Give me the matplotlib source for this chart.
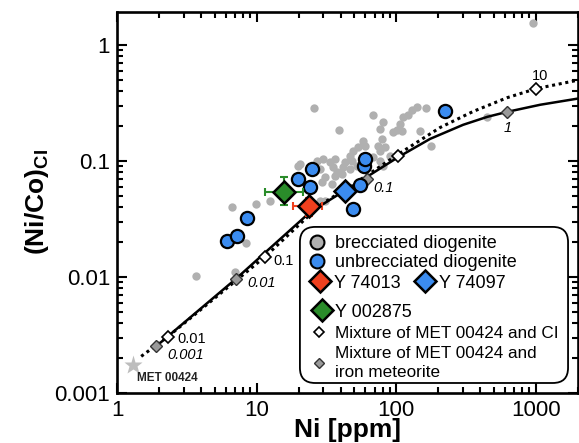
import numpy as np
import matplotlib
matplotlib.use('Agg')
import matplotlib.pyplot as plt
from matplotlib.lines import Line2D
from matplotlib.patches import FancyBboxPatch
from matplotlib.ticker import FixedLocator, FixedFormatter, LogLocator, NullFormatter

plt.rcParams['font.family'] = ['Liberation Sans', 'DejaVu Sans']
plt.rcParams['mathtext.fontset'] = 'custom'
plt.rcParams['mathtext.rm'] = 'Liberation Sans'
plt.rcParams['mathtext.bf'] = 'Liberation Sans:bold'

# ---------------- data ----------------
brec_ni = [960, 25.8, 39.0, 68.4, 80.7, 76.8, 121.9, 130.2, 141.4, 164.1, 112.2,
           106.8, 101.7, 110.4, 95.2, 148.6, 178.2, 449, 79.4, 74.3, 83.4, 76.8,
           58.0, 60.0, 53.4, 49.2, 90.6, 46.8, 48.4, 43.1, 41.7, 36.5, 35.3,
           76.8, 80.7, 37.8, 41.0, 30.0, 33.6, 27.2, 20.5, 19.8, 28.5, 31.0, 29.5,
           36.5, 34.8, 28.5, 31.0, 6.67, 9.92, 12.5, 8.41, 3.68, 7.01, 68.4, 52.5, 46.8]
brec_nico = [1.54, 0.2886, 0.1833, 0.2513, 0.2146, 0.1869, 0.2513, 0.2773, 0.294, 0.2886, 0.2416,
             0.2063, 0.1833, 0.1797, 0.1762, 0.1797, 0.1336, 0.2416, 0.1535, 0.1336, 0.131, 0.1211,
             0.1475, 0.1336, 0.131, 0.1211, 0.1097, 0.1097, 0.0994, 0.0975, 0.0883, 0.1034, 0.0883,
             0.0994, 0.0901, 0.080, 0.0769, 0.1034, 0.0975, 0.0994, 0.0937, 0.0901, 0.0849, 0.0725, 0.0657,
             0.0739, 0.0631, 0.0452, 0.0452, 0.0401, 0.0426, 0.0452, 0.0197, 0.0103, 0.0111, 0.1076, 0.0901, 0.0849]

unbrec_ni = [6.14, 7.25, 8.55, 19.8, 25.0, 24.2, 49.2, 55.2, 59.3, 60.0, 224]
unbrec_nico = [0.0205, 0.0226, 0.0323, 0.0697, 0.0849, 0.0595, 0.0386, 0.0619, 0.0901, 0.1034, 0.267]

y74013_ni, y74013_nico = [23.8], [0.0409]
y74013_xerr, y74013_yerr = [[5.5], [5.5]], [[0.0073], [0.0073]]
y74097_ni, y74097_nico = [43.1], [0.055]
y002875_ni, y002875_nico = [15.7], [0.054]
y002875_xerr, y002875_yerr = [[4.2], [5.8]], [[0.0123], [0.0185]]

met_ni, met_nico = [1.30], [0.00174]

# mixing curves
iron_curve_ni = [1.90, 7.13, 24.2, 58.0, 103, 175, 302, 450, 625, 1077, 1983]
iron_curve_nico = [0.00253, 0.0097, 0.0363, 0.0697, 0.1076, 0.155, 0.205, 0.240, 0.265, 0.305, 0.344]
ci_curve_ni = [1.49, 2.32, 11.5, 28.5, 62, 103, 207, 356, 625, 1009, 1919]
ci_curve_nico = [0.00208, 0.00308, 0.0150, 0.0417, 0.0754, 0.114, 0.1945, 0.267, 0.351, 0.42, 0.491]

iron_pts_ni = [1.90, 7.13, 62.0, 625]
iron_pts_nico = [0.00253, 0.0097, 0.0697, 0.263]
iron_pts_labels = ['0.001', '0.01', '0.1', '1']
ci_pts_ni = [2.32, 11.5, 103, 1009]
ci_pts_nico = [0.00308, 0.0150, 0.1097, 0.42]
ci_pts_labels = ['0.01', '0.1', '', '10']

x_ticks = [1, 10, 100, 1000]
x_ticklabels = ['1', '10', '100', '1000']
y_ticks = [0.001, 0.01, 0.1, 1]
y_ticklabels = ['0.001', '0.01', '0.1', '1']

# ---------------- styles ----------------
GRAY = '#b0b0b0'
BLUE = '#3b8cf0'
RED = '#f0401e'
GREEN = '#2a8c2a'
DGRAY = '#9a9a9a'

fig = plt.figure(figsize=(5.79, 4.43), dpi=100)
ax = fig.add_axes([0.2021, 0.1122, 0.7957, 0.8614])
ax.set_xscale('log')
ax.set_yscale('log')
ax.set_xlim(1, 2000)
ax.set_ylim(0.001, 1.93)

ax.plot(brec_ni, brec_nico, 'o', ms=6, color=GRAY, mec='none', zorder=2)

ax.plot(ci_curve_ni, ci_curve_nico, linestyle=(0, (1, 1.2)), color='black', lw=2.2, zorder=3)
ax.plot(iron_curve_ni, iron_curve_nico, '-', color='black', lw=1.8, zorder=3)

ax.plot(met_ni, met_nico, '*', ms=14, color='#bdbdbd', mec='none', zorder=3)
ax.annotate('MET 00424', xy=(met_ni[0], met_nico[0]), xytext=(3, -9), textcoords='offset points',
            fontsize=8.5, fontweight='bold', color='#222222', ha='left', va='center')

ax.plot(iron_pts_ni, iron_pts_nico, 'D', ms=6, color=DGRAY, mec='#333333', mew=1.0, zorder=4)
ax.plot(ci_pts_ni, ci_pts_nico, 'D', ms=6, color='white', mec='black', mew=1.2, zorder=4)

iron_offsets = [(8, -6), (8, -3), (4.5, -6), (0, -11)]
for xv, yv, lab, off in zip(iron_pts_ni, iron_pts_nico, iron_pts_labels, iron_offsets):
    ax.annotate(lab, xy=(xv, yv), xytext=off, textcoords='offset points', fontsize=10.5,
                fontstyle='italic', ha='center' if lab == '1' else 'left', va='center', zorder=5)
ci_offsets = [(7, -1.5), (6, -3), (0, 0), (3, 9)]
for xv, yv, lab, off in zip(ci_pts_ni, ci_pts_nico, ci_pts_labels, ci_offsets):
    if lab:
        ax.annotate(lab, xy=(xv, yv), xytext=off, textcoords='offset points', fontsize=10.5,
                    ha='center' if lab == '10' else 'left', va='center', zorder=5)

ax.plot(unbrec_ni, unbrec_nico, 'o', ms=9.5, color=BLUE, mec='black', mew=1.6, zorder=5)

ax.errorbar(y002875_ni, y002875_nico, xerr=y002875_xerr, yerr=y002875_yerr, fmt='none',
            ecolor=GREEN, elinewidth=1.5, capsize=3, capthick=1.5, zorder=5)
ax.errorbar(y74013_ni, y74013_nico, xerr=y74013_xerr, yerr=y74013_yerr, fmt='none',
            ecolor=RED, elinewidth=1.5, capsize=3, capthick=1.5, zorder=5)
ax.plot(y002875_ni, y002875_nico, 'D', ms=11.5, color=GREEN, mec='black', mew=1.8, zorder=6)
ax.plot(y74013_ni, y74013_nico, 'D', ms=11.5, color=RED, mec='black', mew=1.8, zorder=6)
ax.plot(y74097_ni, y74097_nico, 'D', ms=11.5, color=BLUE, mec='black', mew=1.8, zorder=6)

# axes styling
for s in ax.spines.values():
    s.set_linewidth(1.9)
ax.xaxis.set_major_locator(FixedLocator(x_ticks))
ax.xaxis.set_major_formatter(FixedFormatter(x_ticklabels))
ax.yaxis.set_major_locator(FixedLocator(y_ticks))
ax.yaxis.set_major_formatter(FixedFormatter(y_ticklabels))
ax.xaxis.set_minor_locator(LogLocator(base=10, subs=np.arange(2, 10)))
ax.yaxis.set_minor_locator(LogLocator(base=10, subs=np.arange(2, 10)))
ax.xaxis.set_minor_formatter(NullFormatter())
ax.yaxis.set_minor_formatter(NullFormatter())
ax.tick_params(which='both', direction='in', top=True, right=True, width=1.5)
ax.tick_params(which='major', length=7, labelsize=16, pad=5)
ax.tick_params(which='minor', length=4.5)

ax.set_xlabel('Ni [ppm]', fontsize=19, fontweight='bold')
ax.set_ylabel(r'$\mathbf{(Ni/Co)}_{\mathbf{CI}}$', fontsize=19)
ax.xaxis.set_label_coords(0.5, -0.065)
ax.yaxis.set_label_coords(-0.143, 0.5)

# ---------------- legend ----------------
frame = FancyBboxPatch((0.397, 0.027), 0.582, 0.409, boxstyle='round,pad=0,rounding_size=0.033',
                       mutation_aspect=460.7 / 381.6, transform=ax.transAxes,
                       facecolor='white', edgecolor='black', lw=1.3, zorder=9)
ax.add_patch(frame)

common = dict(frameon=False, borderpad=0, borderaxespad=0, handlelength=1.0)
h1 = [Line2D([], [], ls='none', marker='o', ms=10, color=GRAY, mec='black', mew=1.5),
      Line2D([], [], ls='none', marker='o', ms=10, color=BLUE, mec='black', mew=1.5)]
leg1 = ax.legend(h1, ['brecciated diogenite', 'unbrecciated diogenite'], loc='center left',
                 bbox_to_anchor=(0.4146, 0.3677), labelspacing=0.1, handletextpad=0.5,
                 fontsize=13, **common)
leg1.set_zorder(10)
ax.add_artist(leg1)

h2 = [Line2D([], [], ls='none', marker='D', ms=11.5, color=RED, mec='black', mew=1.8),
      Line2D([], [], ls='none', marker='D', ms=11.5, color=BLUE, mec='black', mew=1.8)]
leg2 = ax.legend(h2, ['Y 74013', 'Y 74097'], loc='center left', ncol=2,
                 bbox_to_anchor=(0.421, 0.289), handletextpad=0.25, columnspacing=0.9,
                 fontsize=13, **common)
leg2.set_zorder(10)
ax.add_artist(leg2)

h3 = [Line2D([], [], ls='none', marker='D', ms=11.5, color=GREEN, mec='black', mew=1.8)]
leg3 = ax.legend(h3, ['Y 002875'], loc='center left',
                 bbox_to_anchor=(0.425, 0.213), handletextpad=0.25, fontsize=13, **common)
leg3.set_zorder(10)
ax.add_artist(leg3)

h4 = [Line2D([], [], ls='none', marker='D', ms=5.5, color='white', mec='black', mew=1.2),
      Line2D([], [], ls='none', marker='D', ms=5.5, color=DGRAY, mec='#333333', mew=1.0)]
leg4 = ax.legend(h4, ['Mixture of MET 00424 and CI', 'Mixture of MET 00424 and\niron meteorite'],
                 loc='upper left', bbox_to_anchor=(0.419, 0.176), labelspacing=0.3,
                 handletextpad=0.45, fontsize=12.3, **common)
leg4.set_zorder(10)
for t in leg4.get_texts():
    t.set_linespacing(1.3)

fig.savefig('out.png', dpi=100)
